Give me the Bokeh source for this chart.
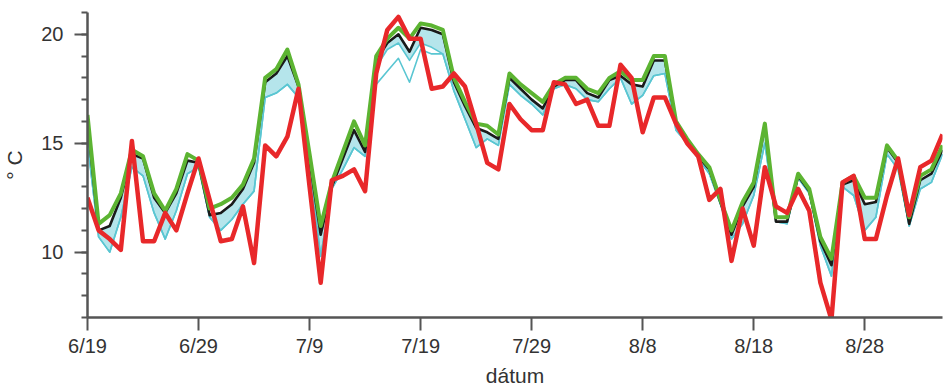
from bokeh.plotting import figure
from bokeh.models import FixedTicker, Range1d
from bokeh.embed import file_html
from bokeh.resources import INLINE

# day offsets from 6/19
days = list(range(78))
tick_days = [0, 10, 20, 30, 40, 50, 60, 70]
tick_labels = ["6/19", "6/29", "7/9", "7/19", "7/29", "8/8", "8/18", "8/28"]

# observed (red)
observed = [12.5, 11.0, 10.6, 10.1, 15.1, 10.5, 10.5, 11.8, 11.0, 12.7,
            14.3, 12.4, 10.5, 10.6, 12.1, 9.5, 14.9, 14.4, 15.3, 17.5,
            13.0, 8.6, 13.3, 13.5, 13.8, 12.8, 18.2, 20.2, 20.8, 19.8,
            19.8, 17.5, 17.6, 18.2, 17.6, 15.9, 14.1, 13.8, 16.8, 16.1,
            15.6, 15.6, 17.8, 17.7, 16.8, 17.0, 15.8, 15.8, 18.6, 18.0,
            15.5, 17.1, 17.1, 15.9, 15.0, 14.4, 12.4, 12.9, 9.6, 12.0,
            10.3, 13.9, 12.1, 11.8, 12.9, 11.9, 8.6, 6.9, 13.2, 13.5,
            10.6, 10.6, 12.6, 14.3, 11.7, 13.9, 14.2, 15.4]

# upper forecast member (green)
upper = [16.3, 11.3, 11.7, 12.7, 14.7, 14.4, 12.7, 11.9, 12.9, 14.5,
         14.2, 12.0, 12.2, 12.5, 13.1, 14.3, 18.0, 18.4, 19.3, 17.7,
         14.5, 11.2, 13.2, 14.6, 16.0, 14.9, 19.0, 19.8, 20.3, 19.8,
         20.5, 20.4, 20.2, 18.0, 16.9, 15.9, 15.8, 15.4, 18.2, 17.7,
         17.3, 16.9, 17.7, 18.0, 18.0, 17.5, 17.3, 18.0, 18.3, 17.9,
         17.9, 19.0, 19.0, 16.0, 15.2, 14.5, 13.9, 12.4, 11.0, 12.3,
         13.2, 15.9, 11.6, 11.6, 13.6, 12.9, 10.7, 9.7, 13.2, 13.5,
         12.5, 12.5, 14.9, 14.2, 11.6, 13.5, 13.8, 14.9]

# black ensemble members
black = [16.0, 11.0, 11.2, 12.5, 14.5, 14.3, 12.5, 11.8, 12.7, 14.2,
         14.1, 11.7, 11.8, 12.2, 12.9, 14.1, 17.8, 18.2, 19.0, 17.6,
         14.2, 10.8, 13.0, 14.3, 15.6, 14.6, 18.8, 19.6, 20.0, 19.2,
         20.3, 20.2, 20.0, 17.8, 16.7, 15.7, 15.5, 15.2, 18.0, 17.5,
         17.0, 16.6, 17.6, 17.9, 17.9, 17.3, 17.1, 17.9, 18.1, 17.7,
         17.6, 18.8, 18.8, 15.9, 15.1, 14.4, 13.8, 12.3, 10.8, 12.1,
         13.0, 15.8, 11.4, 11.4, 13.5, 12.8, 10.5, 9.4, 13.1, 13.3,
         12.2, 12.3, 14.8, 14.1, 11.3, 13.3, 13.6, 14.7]

# cyan ensemble: lower edge of main cluster
cyan_low = [15.0, 10.7, 10.0, 11.6, 13.9, 13.5, 11.8, 10.6, 11.9, 13.6,
            13.9, 11.6, 11.0, 11.5, 12.2, 12.8, 17.1, 17.3, 17.7, 17.1,
            13.9, 9.8, 12.9, 13.8, 14.8, 14.4, 18.5, 19.3, 19.6, 18.8,
            19.6, 19.4, 19.1, 17.4, 16.1, 14.8, 15.2, 14.9, 17.7, 17.2,
            16.8, 16.3, 17.5, 17.7, 17.5, 17.0, 16.9, 17.5, 18.0, 16.8,
            17.2, 18.1, 18.2, 15.6, 15.0, 14.3, 13.6, 12.2, 10.6, 11.3,
            12.6, 15.0, 11.4, 11.3, 13.4, 12.7, 10.3, 8.9, 13.0, 12.6,
            11.0, 11.6, 14.5, 13.8, 11.2, 12.9, 13.2, 14.5]

# cyan ensemble: lowest member
cyan_min = [15.0, 10.7, 10.0, 11.6, 13.9, 13.5, 11.8, 10.6, 11.9, 13.6,
            13.9, 11.6, 11.0, 11.5, 12.2, 12.8, 17.1, 17.3, 17.7, 17.1,
            13.9, 9.8, 12.9, 13.8, 14.8, 14.4, 17.7, 18.3, 18.9, 17.8,
            19.3, 19.1, 19.1, 17.4, 16.1, 14.8, 15.2, 14.9, 17.7, 17.2,
            16.8, 16.3, 17.5, 17.7, 17.5, 17.0, 16.9, 17.5, 18.0, 16.8,
            17.2, 18.1, 18.2, 15.6, 15.0, 14.3, 13.6, 12.2, 10.6, 11.3,
            12.6, 15.0, 11.4, 11.3, 13.4, 12.7, 10.3, 8.9, 13.0, 12.6,
            11.0, 11.6, 14.5, 13.8, 11.2, 12.9, 13.2, 14.5]

RED = "#e8282a"
GREEN = "#5cb432"
CYAN = "#5ac6d2"
BLACK = "#1a1a1a"
AXIS = "#555555"
TEXT = "#333333"
FONT = "Liberation Sans"

p = figure(width=945, height=389, output_backend="svg", toolbar_location=None,
           x_range=Range1d(0, 77), y_range=Range1d(7, 21),
           min_border_left=87, min_border_right=3, min_border_top=12,
           min_border_bottom=71)
p.outline_line_color = None
p.grid.visible = False
p.background_fill_color = "white"
p.border_fill_color = "white"

p.varea(x=days, y1=cyan_low, y2=black, fill_color=CYAN, fill_alpha=0.45)
p.line(days, cyan_min, line_color=CYAN, line_width=1.6, line_join="round")
p.line(days, cyan_low, line_color=CYAN, line_width=1.6, line_join="round")
p.line(days, black, line_color=BLACK, line_width=2.6, line_join="round")
p.line(days, upper, line_color=GREEN, line_width=4, line_join="round")
p.line(days, observed, line_color=RED, line_width=4.5, line_join="round")

xa = p.xaxis[0]
xa.ticker = FixedTicker(ticks=tick_days)
xa.major_label_overrides = {d: l for d, l in zip(tick_days, tick_labels)}
xa.axis_label = "dátum"
ya = p.yaxis[0]
ya.ticker = FixedTicker(ticks=[10, 15, 20], minor_ticks=list(range(7, 22)))
ya.axis_label = "° C"

for ax in (xa, ya):
    ax.axis_line_color = AXIS
    ax.axis_line_width = 2.5
    ax.major_tick_line_color = AXIS
    ax.major_tick_line_width = 2
    ax.major_tick_out = 13
    ax.major_tick_in = 0
    ax.minor_tick_line_color = AXIS
    ax.minor_tick_line_width = 2
    ax.minor_tick_out = 6
    ax.minor_tick_in = 0
    ax.major_label_text_font = FONT
    ax.major_label_text_font_size = "20px"
    ax.major_label_text_color = TEXT
    ax.axis_label_text_font = FONT
    ax.axis_label_text_font_size = "21px"
    ax.axis_label_text_font_style = "normal"
    ax.axis_label_text_color = TEXT

xa.minor_tick_out = 0
xa.major_label_standoff = 4
xa.axis_label_standoff = 4
ya.major_label_standoff = 11
ya.axis_label_standoff = 12

open("out.html", "w").write(file_html(p, INLINE))
